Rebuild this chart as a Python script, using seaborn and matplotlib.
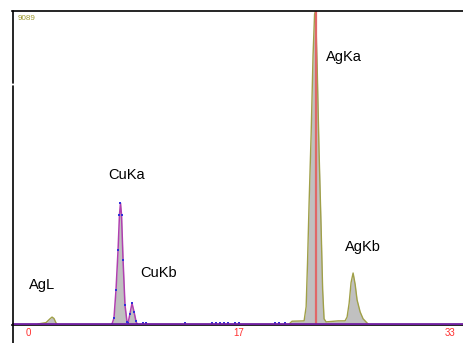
import matplotlib
matplotlib.use('Agg')
import matplotlib.pyplot as plt
import seaborn as sns
import pandas as pd

# ── spectrum data (keV, counts) ───────────────────────────────
agl_kev = [0.78, 1.41, 1.72, 1.88, 2.03, 2.19, 2.27]
agl_cts = [0, 40, 150, 200, 160, 30, 0]

cu_kev = [6.57, 6.72, 6.88, 7.04, 7.15, 7.23, 7.31, 7.43, 7.58, 7.74,
          7.82, 7.97, 8.13, 8.29, 8.44, 8.52]
cu_cts = [0, 170, 990, 2150, 3170, 3510, 3170, 1860, 550, 60,
          20, 300, 600, 350, 80, 0]

ag_kev = [20.41, 20.64, 21.58, 21.74, 21.85, 21.97, 22.13, 22.28, 22.40, 22.48,
          22.60, 22.75, 22.91, 23.03, 23.14, 23.30, 24.24, 24.78, 24.94, 25.10,
          25.25, 25.41, 25.57, 25.72, 25.96, 26.19, 26.50, 26.58]
ag_cts = [0, 80, 90, 500, 1800, 3500, 5500, 7800, 9000, 9089,
          7500, 5000, 2800, 1000, 150, 60, 90, 90, 200, 600,
          1200, 1480, 1150, 700, 350, 150, 30, 0]

noise_kev = [9.0, 9.2, 12.3, 14.4, 14.7, 15.0, 15.3, 15.6, 16.2, 16.5, 19.3, 19.6, 20.1]
noise_cts = [30, 30, 30, 30, 30, 30, 30, 30, 30, 30, 30, 30, 30]

peak_names = ['AgL', 'CuKa', 'CuKb', 'AgKa', 'AgKb']
peak_kev = [1.88, 7.23, 8.13, 22.48, 25.41]
peak_cts = [200, 3510, 600, 9089, 1480]

tick_pos = [0, 16.5, 33]
tick_lbl = ['0', '17', '33']
full_scale = 9089

GRAY = '#c0c0c0'
CU = '#b040b0'
AG = '#a0a048'
DOT = '#3030d8'
RED = '#e06868'
BASE = '#7020a0'

sns.set_style('white')
plt.rcParams['font.family'] = ['Liberation Sans', 'DejaVu Sans']

fig = plt.figure(figsize=(4.63, 3.43), dpi=100)
ax = fig.add_axes([12/463, 18/343, 1 - 12/463, 314/343])

agl = pd.DataFrame({'kev': agl_kev, 'cts': agl_cts})
cu = pd.DataFrame({'kev': cu_kev, 'cts': cu_cts})
ag = pd.DataFrame({'kev': ag_kev, 'cts': ag_cts})
noise = pd.DataFrame({'kev': noise_kev, 'cts': noise_cts})

for df in (agl, cu, ag):
    ax.fill_between(df['kev'], 0, df['cts'], color=GRAY, lw=0, zorder=1)

sns.lineplot(data=agl, x='kev', y='cts', color=AG, lw=1, ax=ax, zorder=2)
sns.lineplot(data=ag, x='kev', y='cts', color=AG, lw=1, ax=ax, zorder=2)
sns.lineplot(data=cu, x='kev', y='cts', color=CU, lw=1.1, ax=ax, zorder=2)
sns.scatterplot(data=cu, x='kev', y='cts', color=DOT, s=1.5, marker='s',
                linewidth=0, ax=ax, zorder=3)
sns.scatterplot(data=noise, x='kev', y='cts', color=DOT, s=1.5, marker='s',
                linewidth=0, ax=ax, zorder=3)

# Ag Ka marker line
ax.plot([peak_kev[3], peak_kev[3]], [0, full_scale], color=RED, lw=1.6, zorder=2.5)

# baseline
ax.axhline(0, color=BASE, lw=2, zorder=4)

offsets = {'AgL': (-1.8, 930), 'CuKa': (-0.98, 820), 'CuKb': (0.63, 880),
           'AgKa': (0.82, -1340), 'AgKb': (-0.63, 760)}
for name, x, y in zip(peak_names, peak_kev, peak_cts):
    dx, dy = offsets[name]
    ax.text(x + dx, y + dy, name, fontsize=10.5, color='black',
            ha='left', va='center', zorder=5)

ax.text(0.013, 0.975, str(full_scale), transform=ax.transAxes, fontsize=5.8,
        color='#a09a30', ha='left', va='center')

ax.set_xlim(-1.25, 34.0)
ax.set_ylim(-30, full_scale)
ax.set_xticks(tick_pos)
ax.set_xticklabels(tick_lbl, color='#ff3030', fontsize=7)
ax.tick_params(axis='x', length=0, pad=2)
ax.set_yticks([])
ax.set_xlabel('')
ax.set_ylabel('')

for s in ['right', 'left']:
    ax.spines[s].set_visible(False)
ax.spines['top'].set_color('black')
ax.spines['top'].set_linewidth(1.2)
ax.spines['bottom'].set_color('black')
ax.spines['bottom'].set_linewidth(1.2)

# left border, with small gap, running to the bottom of the image
x0 = 12.5 / 463
fig.add_artist(plt.Line2D([x0, x0], [1 - 11/343, 1 - 83/343], color='black', lw=1.2))
fig.add_artist(plt.Line2D([x0, x0], [1 - 86/343, 0], color='black', lw=1.2))

fig.savefig('out.png', dpi=100)
